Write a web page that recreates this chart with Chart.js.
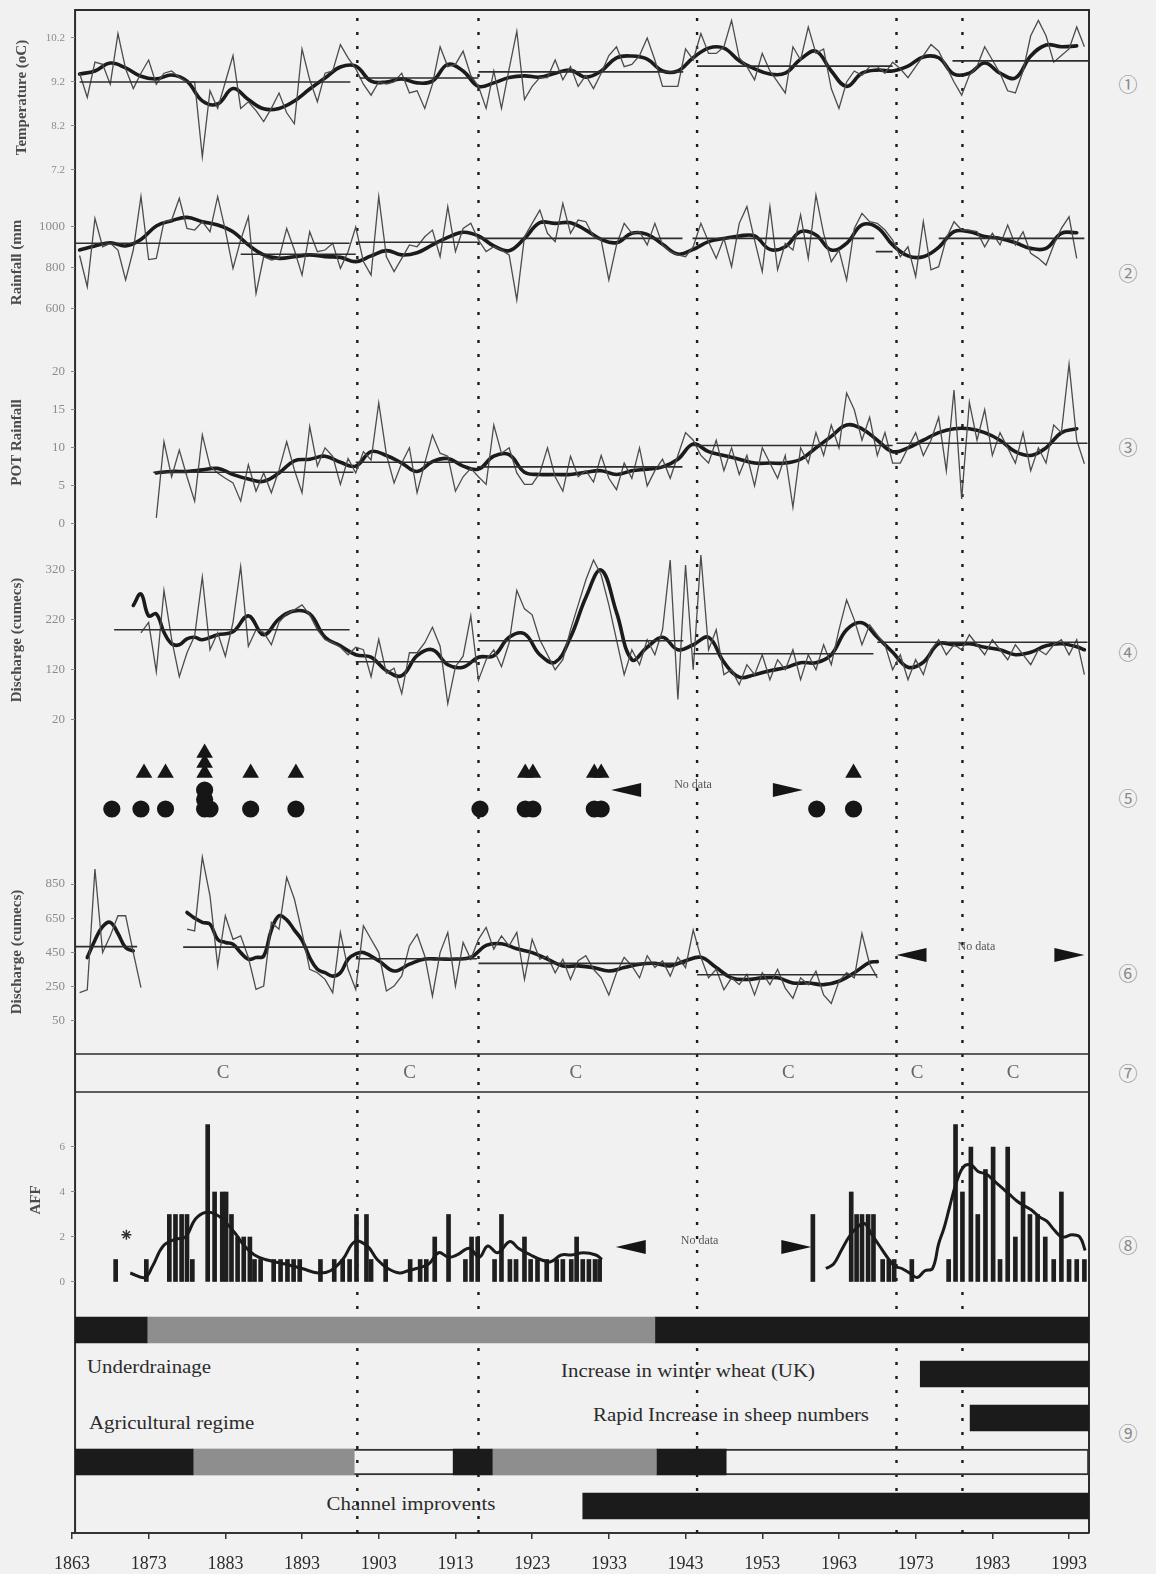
<!DOCTYPE html>
<html>
<head>
<meta charset="utf-8">
<script src="https://cdn.jsdelivr.net/npm/chart.js@4.4.1/dist/chart.umd.min.js"></script>
<style>
  html, body { margin: 0; padding: 0; background: #f1f1f1; }
  #page { position: relative; width: 1156px; height: 1574px; overflow: hidden; }
  #page canvas { position: absolute; left: 0; }
  .lbl { position: absolute; font-family: "Liberation Serif", "DejaVu Serif", serif; color: #2b2b2b;
         font-size: 18px; line-height: 20px; white-space: nowrap; }
  .lbl.left { transform-origin: 0 50%; transform: scaleX(1.16); }
  .lbl.mid { transform: translateX(-50%) scaleX(1.16); }
  .num { position: absolute; width: 24px; text-align: center; font-family: "Noto Sans CJK JP", "DejaVu Sans", sans-serif;
         color: #8a8a8a; font-size: 19px; line-height: 24px; }
</style>
</head>
<body>
<div id="page">
  <div class="lbl left" style="left:87px; top:1357px;">Underdrainage</div>
  <div class="lbl mid" style="left:688px; top:1361px;">Increase in winter wheat (UK)</div>
  <div class="lbl mid" style="left:731px; top:1405px;">Rapid Increase in sheep numbers</div>
  <div class="lbl left" style="left:89px; top:1413px;">Agricultural regime</div>
  <div class="lbl mid" style="left:411px; top:1494px;">Channel improvents</div>

  <div class="num" style="left:1116px; top:72px;">①</div>
  <div class="num" style="left:1116px; top:261px;">②</div>
  <div class="num" style="left:1116px; top:435px;">③</div>
  <div class="num" style="left:1116px; top:640px;">④</div>
  <div class="num" style="left:1116px; top:786px;">⑤</div>
  <div class="num" style="left:1116px; top:961px;">⑥</div>
  <div class="num" style="left:1116px; top:1061px;">⑦</div>
  <div class="num" style="left:1116px; top:1233px;">⑧</div>
  <div class="num" style="left:1116px; top:1421px;">⑨</div>
</div>
<script>
// ---------------------------------------------------------------------------
// Data
// ---------------------------------------------------------------------------
const yearTicks = [1863, 1873, 1883, 1893, 1903, 1913, 1923, 1933, 1943, 1953, 1963, 1973, 1983, 1993];
const changePointYears = [1900.2, 1916.0, 1944.5, 1970.5, 1979.1];
const cYears = [1882.7, 1907.0, 1928.7, 1956.4, 1973.2, 1985.7];

// (1) mean annual temperature, 1864-1995
const temperature = [
  9.4, 8.85, 9.65, 9.6, 9.15, 10.3, 9.5, 9.05, 9.4, 9.7,
  9.15, 9.4, 9.45, 9.3, 9.2, 9.2, 7.5, 9.0, 8.6, 9.2,
  9.8, 8.6, 8.75, 8.55, 8.3, 8.6, 8.95, 8.5, 8.25, 9.95,
  9.25, 8.75, 9.4, 9.45, 10.05, 9.75, 9.5, 9.15, 8.9, 9.2,
  9.15, 9.2, 9.4, 8.95, 9.0, 8.6, 9.15, 10.0, 9.55, 9.6,
  9.9, 9.35, 9.1, 8.6, 9.45, 8.6, 9.5, 10.35, 8.8, 9.1,
  9.3, 9.3, 9.7, 9.25, 9.55, 9.1, 9.35, 9.05, 9.4, 9.8,
  10.0, 9.55, 9.6, 9.8, 10.2, 9.7, 9.1, 9.1, 9.1, 9.95,
  9.7, 10.3, 9.85, 9.85, 10.0, 10.6, 9.75, 9.55, 9.25, 9.85,
  9.45, 9.2, 8.95, 10.0, 9.7, 10.45, 9.85, 9.95, 9.05, 8.6,
  9.2, 9.45, 9.35, 9.55, 9.55, 9.4, 9.65, 9.5, 9.3, 9.55,
  9.8, 10.05, 9.9, 9.55, 9.2, 8.9, 9.35, 9.55, 10.0, 9.7,
  9.4, 9.0, 8.95, 9.45, 10.25, 10.6, 10.25, 9.65, 9.8, 9.95,
  10.45, 10.0
];
// running mean, every second year from 1864
const temperatureSmooth = [
  9.38, 9.45, 9.63, 9.52, 9.33, 9.27, 9.36, 9.22, 8.77, 8.7,
  9.05, 8.8, 8.59, 8.6, 8.77, 9.04, 9.29, 9.54, 9.56, 9.22,
  9.2, 9.27, 9.18, 9.22, 9.6, 9.45, 9.1, 9.18, 9.3, 9.34,
  9.31, 9.4, 9.47, 9.31, 9.45, 9.75, 9.79, 9.72, 9.45, 9.45,
  9.75, 9.97, 9.97, 9.68, 9.5, 9.38, 9.4, 9.72, 9.9, 9.45,
  9.1, 9.4, 9.47, 9.45, 9.56, 9.77, 9.75, 9.38, 9.4, 9.63,
  9.4, 9.29, 9.79, 10.04, 10.0, 10.02
];
// segment means: [from, to, mean]
const temperatureMeans = [[1864, 1899.3, 9.2], [1900.5, 1916, 9.29], [1916, 1942.7, 9.43], [1944.5, 1970, 9.56], [1977.8, 1995.5, 9.68]];
const temperatureTicks = [7.2, 8.2, 9.2, 10.2];

// (2) annual rainfall (mm), 1864-1994
const rainfall = [
  860, 707, 1042, 903, 920, 887, 740, 887, 1150, 840,
  846, 1026, 1034, 1141, 993, 985, 1026, 977, 1149, 985,
  797, 936, 1050, 674, 854, 838, 846, 993, 887, 764,
  977, 879, 887, 920, 797, 879, 1000, 830, 764, 1149,
  854, 781, 846, 912, 903, 952, 985, 854, 1100, 879,
  993, 1018, 936, 879, 903, 887, 863, 642, 952, 1018,
  1083, 969, 928, 1116, 969, 1034, 1026, 953, 936, 740,
  912, 1018, 969, 977, 912, 1018, 912, 879, 863, 854,
  903, 1018, 928, 846, 944, 805, 1018, 1100, 936, 781,
  1100, 790, 920, 887, 1059, 846, 1157, 969, 830, 887,
  740, 993, 1067, 1026, 1018, 985, 936, 854, 903, 756,
  1026, 790, 805, 944, 1026, 985, 985, 977, 903, 969,
  912, 1010, 912, 977, 871, 846, 813, 912, 993, 1050,
  846
];
const rainfallSmooth = [
  887, 907, 923, 907, 939, 1005, 1031, 1047, 1026, 1010,
  977, 912, 863, 846, 854, 863, 854, 851, 830, 858,
  884, 863, 874, 912, 949, 974, 956, 907, 884, 944,
  1021, 1018, 1021, 985, 939, 923, 969, 964, 915, 867,
  890, 928, 944, 956, 956, 890, 903, 977, 961, 887,
  920, 1010, 998, 912, 858, 854, 900, 977, 977, 953,
  944, 923, 895, 895, 969, 972
];
const rainfallMeans = [[1863.4, 1899.2, 920], [1885, 1900, 866], [1900, 1916, 925], [1916, 1942.6, 944], [1943.9, 1967.6, 944], [1967.8, 1970, 879], [1976, 1995, 944]];
const rainfallTicks = [600, 800, 1000];

// (3) POT rainfall events per year, 1874-1995
const potRainfall = [
  0.8, 10.8, 6.2, 9.7, 6.2, 3.0, 11.7, 7.6, 6.7, 6.0,
  5.4, 3.0, 7.8, 4.3, 6.7, 4.1, 7.1, 10.8, 7.1, 4.1,
  12.8, 7.6, 10.0, 8.9, 5.2, 8.6, 6.7, 9.5, 8.4, 15.9,
  9.1, 5.4, 8.0, 10.0, 4.1, 8.0, 11.7, 9.3, 8.9, 4.3,
  6.2, 7.3, 6.2, 5.2, 13.0, 9.3, 10.0, 6.7, 5.2, 5.2,
  6.7, 10.0, 6.2, 4.3, 8.9, 6.2, 7.0, 5.5, 9.0, 6.0,
  4.5, 8.0, 6.0, 10.0, 5.0, 7.0, 8.5, 6.0, 9.0, 12.0,
  11.0, 9.0, 8.0, 11.0, 7.0, 10.0, 6.5, 9.0, 5.0, 10.0,
  8.0, 6.0, 9.0, 2.2, 10.0, 8.0, 12.0, 9.0, 13.0, 10.0,
  17.2, 15.0, 11.0, 14.0, 9.0, 12.0, 8.0, 8.0, 10.0, 12.0,
  9.0, 11.0, 14.0, 7.0, 17.6, 3.3, 16.0, 11.0, 15.0, 9.0,
  12.0, 10.0, 8.0, 12.0, 7.0, 10.0, 8.0, 13.0, 12.0, 21.0,
  11.0, 7.9
];
const potRainfallSmooth = [
  6.7, 6.9, 6.9, 7.1, 7.3, 6.5, 5.9, 5.6, 6.7, 8.3,
  8.5, 8.9, 8.1, 7.6, 9.5, 9.0, 8.0, 6.9, 8.2, 8.6,
  7.6, 7.2, 8.9, 9.1, 6.8, 6.5, 6.5, 6.5, 6.8, 7.0,
  6.5, 7.0, 7.2, 7.5, 8.5, 10.5, 9.5, 9.0, 8.5, 8.0,
  8.0, 8.0, 8.5, 10.0, 11.5, 13.0, 12.5, 11.0, 9.5, 10.0,
  11.0, 12.0, 12.5, 12.5, 12.0, 11.0, 9.5, 9.0, 10.0, 12.0,
  12.5
];
const potRainfallMeans = [[1873.6, 1899.7, 6.8], [1900, 1915.8, 8.1], [1916.2, 1942.6, 7.5], [1944, 1970, 10.3], [1970.5, 1995.4, 10.6]];
const potRainfallTicks = [0, 5, 10, 15, 20];

// (4) mean annual discharge (cumecs), 1872-1995
const discharge = [
  194, 215, 116, 279, 181, 106, 154, 188, 306, 160,
  194, 147, 215, 327, 167, 200, 195, 170, 215, 232,
  240, 250, 230, 200, 180, 175, 165, 150, 165, 160,
  106, 181, 113, 123, 72, 154, 154, 174, 205, 167,
  52, 126, 147, 228, 99, 140, 160, 126, 174, 279,
  242, 230, 180, 150, 120, 140, 200, 250, 300, 340,
  310, 250, 180, 110, 160, 130, 180, 150, 200, 340,
  60, 330, 120, 350, 160, 200, 110, 120, 90, 130,
  110, 150, 100, 140, 120, 160, 100, 150, 120, 170,
  130, 200, 260, 220, 170, 210, 190, 170, 120, 150,
  100, 140, 110, 160, 180, 150, 170, 160, 190, 170,
  150, 180, 160, 140, 170, 150, 130, 160, 150, 170,
  180, 150, 180, 110
];
const dischargeSmooth = [
  [1871, 249], [1872, 272], [1873, 228], [1874, 232], [1875, 195], [1876, 172], [1877, 170], [1878, 182],
  [1879, 185], [1880, 180], [1882, 190], [1884, 196], [1886, 228], [1888, 190], [1890, 222], [1892, 238],
  [1894, 232], [1896, 185], [1898, 168], [1900, 150], [1902, 145], [1904, 118], [1906, 108], [1908, 148],
  [1910, 160], [1912, 130], [1914, 125], [1916, 145], [1918, 148], [1920, 185], [1922, 192], [1924, 150],
  [1926, 135], [1928, 185], [1930, 265], [1932, 320], [1934, 235], [1936, 140], [1938, 165], [1940, 185],
  [1942, 160], [1944, 170], [1946, 185], [1948, 135], [1950, 105], [1952, 110], [1954, 118], [1956, 124],
  [1958, 134], [1960, 134], [1962, 150], [1964, 200], [1966, 214], [1968, 185], [1970, 155], [1972, 125],
  [1974, 135], [1976, 172], [1978, 170], [1980, 172], [1982, 165], [1984, 160], [1986, 150], [1988, 155],
  [1990, 168], [1992, 172], [1994, 166], [1995, 160]
];
const dischargeMeans = [[1868.5, 1899.2, 200], [1900, 1915.8, 136], [1916, 1942.7, 178], [1944, 1967.5, 152], [1968, 1995.4, 175]];
const dischargeTicks = [20, 120, 220, 320];

// (5) flood events: one entry per event, repeated years stack
const floodCircleYears = [1868.2, 1872.0, 1875.2, 1880.3, 1880.3, 1880.3, 1881.0, 1886.3, 1892.2, 1916.2, 1922.1, 1923.1, 1931.1, 1932.0, 1960.1, 1964.9];
const floodTriangleYears = [1872.4, 1875.2, 1880.3, 1880.3, 1880.3, 1886.3, 1892.2, 1922.1, 1923.1, 1931.1, 1932.0, 1964.9];
const floodGap = [1933.3, 1958.3];

// (6) annual peak discharge (cumecs), 1864-1968
const peakDischarge = [
  213, 230, 938, 448, 546, 664, 664, 448, 242, null,
  null, null, null, null, 585, 575, 1007, 781, 370, 664,
  526, 546, 419, 232, 252, 625, 585, 889, 762, 566,
  350, 330, 291, 213, 566, 350, 232, 605, 526, 448,
  223, 252, 311, 487, 556, 428, 193, 448, 566, 252,
  507, 409, 526, 595, 468, 546, 487, 566, 291, 526,
  409, 428, 330, 409, 291, 400, 430, 350, 300, 200,
  330, 420, 370, 300, 430, 360, 400, 310, 420, 360,
  580, 420, 300, 350, 230, 300, 260, 320, 200, 330,
  260, 350, 240, 180, 300, 260, 340, 200, 150, 280,
  330, 300, 560, 380, 300
];
const peakDischargeSmooth = [
  [1865, 419], [1866, 520], [1867, 600], [1868, 625], [1869, 560], [1870, 477], [1871, 458], [1872, null],
  [1878, 683], [1879, 650], [1880, 625], [1881, 615], [1882, 526], [1883, 507], [1884, 497], [1885, 448],
  [1886, 409], [1887, 419], [1888, 428], [1889, 580], [1890, 664], [1891, 640], [1892, 580], [1893, 520],
  [1894, 419], [1895, 350], [1896, 330], [1897, 310], [1898, 330], [1899, 409], [1900, 440], [1901, 448],
  [1903, 400], [1905, 340], [1907, 380], [1909, 410], [1911, 410], [1913, 410], [1915, 420], [1917, 490],
  [1919, 500], [1921, 470], [1923, 448], [1925, 410], [1927, 370], [1929, 370], [1931, 360], [1933, 340],
  [1935, 360], [1937, 380], [1939, 385], [1941, 370], [1943, 400], [1945, 420], [1947, 360], [1949, 300],
  [1951, 290], [1953, 300], [1955, 300], [1957, 270], [1959, 270], [1961, 260], [1963, 280], [1965, 330],
  [1967, 390], [1968, 395]
];
const peakDischargeMeans = [[1863.4, 1871.5, 483], [1877.5, 1899.5, 480], [1900, 1915.8, 412], [1916, 1943, 385], [1944.5, 1968, 318]];
const peakDischargeTicks = [50, 250, 450, 650, 850];
const peakGap = [1970.5, 1995.0];

// (8) annual flood frequency
const affYears = [
  1868.7, 1872.7, 1875.7, 1876.5, 1877.3, 1878.0, 1878.7, 1880.7, 1881.6, 1882.6,
  1883.1, 1883.8, 1884.6, 1885.4, 1886.2, 1886.8, 1887.6, 1889.3, 1890.2, 1891.1,
  1891.9, 1892.7, 1895.4, 1897.2, 1898.3, 1899.2, 1900.1, 1901.4, 1902.0, 1903.9,
  1907.1, 1908.4, 1909.2, 1910.3, 1912.1, 1914.3, 1915.1, 1915.9, 1918.1, 1919.0,
  1920.1, 1920.9, 1922.0, 1922.8, 1923.7, 1924.9, 1926.2, 1927.0, 1928.1, 1928.8,
  1929.6, 1930.4, 1931.2, 1931.8,
  1959.6, 1964.6, 1965.3, 1966.0, 1966.8, 1967.5, 1968.7, 1969.5, 1970.2, 1972.5,
  1977.3, 1978.2, 1979.1, 1980.2, 1981.1, 1982.1, 1983.1, 1984.0, 1985.0, 1986.0,
  1987.0, 1987.9, 1988.9, 1989.9, 1991.0, 1992.0, 1993.0, 1994.0, 1995.0
];
const affCounts = [
  1, 1, 3, 3, 3, 3, 1, 7, 4, 4,
  4, 3, 2, 2, 2, 1, 1, 1, 1, 1,
  1, 1, 1, 1, 1, 1, 3, 3, 1, 1,
  1, 1, 1, 2, 3, 1, 2, 2, 1, 3,
  1, 1, 2, 1, 1, 1, 1, 1, 1, 2,
  1, 1, 1, 1,
  3, 4, 3, 3, 3, 3, 1, 1, 1, 1,
  1, 7, 4, 6, 3, 5, 6, 1, 6, 2,
  4, 3, 3, 2, 1, 4, 1, 1, 1
];
const affSmoothYears = [
  1870.6, 1872.5, 1873.5, 1874.9, 1876.5, 1877.8, 1879.1, 1880.5, 1881.8, 1882.9,
  1884.2, 1885.5, 1886.8, 1888.2, 1890.8, 1893.0, 1895.1, 1896.7, 1898.3, 1899.9,
  1901.5, 1902.8, 1904.2, 1905.7, 1906.8, 1907.9, 1909.5, 1910.8, 1912.1, 1913.2,
  1914.8, 1916.1, 1917.2, 1918.5, 1920.1, 1921.2, 1922.8, 1924.1, 1925.4, 1926.8,
  1928.1, 1929.7, 1931.3, 1932.1,
  1961.3, 1962.3, 1963.3, 1964.3, 1965.3, 1966.3, 1967.3, 1968.3, 1969.3, 1970.3,
  1971.2, 1972.2, 1973.2, 1974.2, 1975.2, 1976.0, 1976.7, 1977.4, 1978.2, 1979.2,
  1980.2, 1981.2, 1982.2, 1983.2, 1984.2, 1985.2, 1986.2, 1987.1, 1988.1, 1989.1,
  1990.1, 1991.1, 1992.1, 1993.4, 1994.4, 1995.1
];
const affSmooth = [
  0.4, 0.2, 0.7, 1.6, 1.9, 2.0, 2.8, 3.1, 3.0, 2.7,
  2.2, 1.6, 1.2, 1.0, 0.8, 0.6, 0.4, 0.5, 1.0, 1.8,
  1.6, 1.0, 0.6, 0.4, 0.5, 0.6, 0.8, 1.3, 1.1, 1.2,
  1.5, 1.1, 1.6, 1.3, 1.8, 1.5, 1.2, 1.0, 0.9, 1.2,
  1.2, 1.3, 1.2, 1.0,
  0.6, 0.8, 1.4, 2.0, 2.4, 2.6, 2.1, 1.6, 1.1, 0.7,
  0.6, 0.4, 0.2, 0.5, 0.6, 1.7, 2.4, 3.3, 4.3, 5.1,
  5.2, 4.9, 4.8, 4.5, 4.2, 3.9, 3.6, 3.4, 3.2, 2.9,
  2.7, 2.3, 2.0, 2.1, 2.0, 1.4
];
const affNote = [1870.1, 2.1];
const affGap = [1933.9, 1959.4];
const affTicks = [0, 2, 4, 6];

// (9) land-use and channel history: [row, from, to, tone]
const historyRows = ['Underdrainage', 'Increase in winter wheat (UK)', 'Rapid Increase in sheep numbers', 'Agricultural regime', 'Channel improvents'];
const historySpans = [
  [0, 1863.4, 1872.8, 'dark'], [0, 1872.8, 1939.0, 'grey'], [0, 1939.0, 1995.6, 'dark'],
  [1, 1973.6, 1995.6, 'dark'],
  [2, 1980.1, 1995.6, 'dark'],
  [3, 1863.4, 1878.8, 'dark'], [3, 1878.8, 1899.8, 'grey'], [3, 1912.7, 1917.8, 'dark'],
  [3, 1917.8, 1939.2, 'grey'], [3, 1939.2, 1948.3, 'dark'],
  [4, 1929.6, 1995.6, 'dark']
];
const historyOutline = [3, 1863.4, 1995.6];

// ---------------------------------------------------------------------------
// Drawing
// ---------------------------------------------------------------------------
const SERIF = '"Liberation Serif", "DejaVu Serif", serif';
const X0 = 1863.4, X1 = 1995.6;     // span of the framed plot
const AREA_LEFT = 75, AREA_RIGHT = 1089, PAD = 24;
Chart.defaults.font.family = SERIF;

const page = document.getElementById('page');

function makeCanvas(top, height) {
  const c = document.createElement('canvas');
  c.width = 1156; c.height = height;
  c.style.top = top + 'px';
  page.appendChild(c);
  return c.getContext('2d');
}
function panelCanvas(areaTop, areaBottom) {
  return makeCanvas(areaTop - PAD, areaBottom - areaTop + 2 * PAD);
}

const annual = (start, values) => values.map((v, i) => ({ x: start + i, y: v }));
const biennial = (start, values) => values.map((v, i) => ({ x: start + 2 * i, y: v }));
const pairs = list => list.map(([x, y]) => ({ x, y }));
const zipped = (xs, ys) => xs.map((x, i) => ({ x, y: ys[i] }));
function segments(list) {
  const out = [];
  list.forEach(([a, b, v]) => out.push({ x: a, y: v }, { x: b, y: v }, { x: b, y: null }));
  return out;
}

const thinLine = data => ({ data, borderColor: '#4c4c4c', borderWidth: 1.3, pointRadius: 0, tension: 0, spanGaps: false });
const thickLine = data => ({ data, borderColor: '#1b1b1b', borderWidth: 3.6, pointRadius: 0, tension: 0.4, spanGaps: false,
                             borderCapStyle: 'round', borderJoinStyle: 'round' });
const meanLine = data => ({ data, borderColor: '#2e2e2e', borderWidth: 1.6, pointRadius: 0, tension: 0, spanGaps: false });

function baseOptions(padLeft) {
  return {
    responsive: false, animation: false, devicePixelRatio: 1, events: [],
    layout: { padding: { left: padLeft, right: 1156 - AREA_RIGHT, top: PAD, bottom: PAD } },
    plugins: { legend: { display: false }, tooltip: { enabled: false } }
  };
}
const xHidden = () => ({ type: 'linear', min: X0, max: X1, display: false, offset: false, grid: { offset: false } });

function yScale({ min, max, ticks, fmt, title, tickSize = 13, titlePad = 8 }) {
  return {
    type: 'linear', position: 'left', min, max,
    afterBuildTicks: s => { s.ticks = ticks.map(v => ({ value: v })); },
    afterFit: s => { s.width = AREA_LEFT; },
    grid: { display: true, drawOnChartArea: false, drawTicks: true, tickLength: 4, color: '#8a8a8a', lineWidth: 1 },
    border: { display: false },
    ticks: { callback: fmt, color: '#8c8c8c', font: { family: SERIF, size: tickSize }, padding: 6, autoSkip: false },
    title: { display: !!title, text: title, color: '#4a4a4a', font: { family: SERIF, size: 15, weight: 'bold' },
             padding: { top: titlePad, bottom: 0 } }
  };
}

// "No data" markers: arrows pointing at the ends of a gap in the record
const noDataPlugin = {
  id: 'noData',
  afterDatasetsDraw(chart, args, o) {
    if (!o || o.from == null) return;
    const { ctx, scales: { x, y } } = chart;
    const xa = x.getPixelForValue(o.from), xb = x.getPixelForValue(o.to);
    const ya = y.getPixelForValue(o.y);
    ctx.save();
    ctx.fillStyle = '#151515';
    ctx.beginPath(); ctx.moveTo(xa, ya); ctx.lineTo(xa + 30, ya - 7); ctx.lineTo(xa + 30, ya + 7); ctx.closePath(); ctx.fill();
    ctx.beginPath(); ctx.moveTo(xb, ya); ctx.lineTo(xb - 30, ya - 7); ctx.lineTo(xb - 30, ya + 7); ctx.closePath(); ctx.fill();
    ctx.font = '12px ' + SERIF; ctx.fillStyle = '#555';
    ctx.textAlign = 'center'; ctx.textBaseline = 'middle';
    ctx.fillText('No data', (xa + xb) / 2 - 14, y.getPixelForValue(o.textY));
    ctx.restore();
  }
};

// --- Frame, change-point lines, time axis and the "C" row -------------------
const framePlugin = {
  id: 'frame',
  afterDatasetsDraw(chart) {
    const { ctx, chartArea: { top, bottom }, scales: { x } } = chart;
    const l = x.getPixelForValue(X0), r = x.getPixelForValue(X1);
    ctx.save();
    ctx.strokeStyle = '#2c2c2c'; ctx.lineWidth = 2;
    ctx.beginPath(); ctx.moveTo(l, bottom); ctx.lineTo(l, top); ctx.lineTo(r, top); ctx.lineTo(r, bottom); ctx.stroke();
    ctx.lineWidth = 1.6;
    ctx.beginPath(); ctx.moveTo(l, 1054); ctx.lineTo(r, 1054); ctx.moveTo(l, 1092); ctx.lineTo(r, 1092); ctx.stroke();
    ctx.fillStyle = '#666'; ctx.font = '19px ' + SERIF; ctx.textAlign = 'center'; ctx.textBaseline = 'middle';
    cYears.forEach(yr => ctx.fillText('C', x.getPixelForValue(yr), 1073));
    ctx.restore();
  }
};

new Chart(makeCanvas(0, 1574), {
  type: 'line',
  data: {
    datasets: changePointYears.map(yr => ({
      data: [{ x: yr, y: 0 }, { x: yr, y: 1 }], borderColor: '#1a1a1a', borderWidth: 2.4,
      borderDash: [3, 11], pointRadius: 0
    }))
  },
  options: {
    responsive: false, animation: false, devicePixelRatio: 1, events: [],
    layout: { padding: { left: 72, right: 1156 - AREA_RIGHT, top: 10, bottom: 0 } },
    plugins: { legend: { display: false }, tooltip: { enabled: false } },
    scales: {
      x: {
        type: 'linear', min: 1863, max: X1,
        afterBuildTicks: s => { s.ticks = yearTicks.map(v => ({ value: v })); },
        afterFit: s => { s.height = 41; },
        grid: { display: true, drawOnChartArea: false, drawTicks: true, tickLength: 6, color: '#333', lineWidth: 1.5 },
        border: { display: true, color: '#333', width: 2 },
        ticks: { callback: v => String(v), color: '#2a2a2a', font: { family: SERIF, size: 18 }, padding: 14,
                 maxRotation: 0, autoSkip: false }
      },
      y: { type: 'linear', min: 0, max: 1, display: false }
    }
  },
  plugins: [framePlugin]
});

// --- (1) Temperature --------------------------------------------------------
new Chart(panelCanvas(10, 185), {
  type: 'line',
  data: { datasets: [
    meanLine(segments(temperatureMeans)),
    thinLine(annual(1864, temperature)),
    thickLine(biennial(1864, temperatureSmooth))
  ] },
  options: { ...baseOptions(0), scales: { x: xHidden(),
    y: yScale({ min: 6.859, max: 10.836, ticks: temperatureTicks, fmt: v => v.toFixed(1), title: 'Temperature (oC)', tickSize: 11, titlePad: 13 }) } }
});

// --- (2) Rainfall -----------------------------------------------------------
new Chart(panelCanvas(185, 340), {
  type: 'line',
  data: { datasets: [
    meanLine(segments(rainfallMeans)),
    thinLine(annual(1864, rainfall)),
    thickLine(biennial(1864, rainfallSmooth))
  ] },
  options: { ...baseOptions(0), scales: { x: xHidden(),
    y: yScale({ min: 445.4, max: 1206.1, ticks: rainfallTicks, fmt: v => String(v), title: 'Rainfall (mm' }) } }
});

// --- (3) POT rainfall -------------------------------------------------------
new Chart(panelCanvas(340, 545), {
  type: 'line',
  data: { datasets: [
    meanLine(segments(potRainfallMeans)),
    thinLine(annual(1874, potRainfall)),
    thickLine(biennial(1874, potRainfallSmooth))
  ] },
  options: { ...baseOptions(0), scales: { x: xHidden(),
    y: yScale({ min: -2.76, max: 24.16, ticks: potRainfallTicks, fmt: v => String(v), title: 'POT Rainfall' }) } }
});

// --- (4) Mean discharge -----------------------------------------------------
new Chart(panelCanvas(545, 735), {
  type: 'line',
  data: { datasets: [
    meanLine(segments(dischargeMeans)),
    thinLine(annual(1872, discharge)),
    thickLine(pairs(dischargeSmooth))
  ] },
  options: { ...baseOptions(0), scales: { x: xHidden(),
    y: yScale({ min: -11.1, max: 370.2, ticks: dischargeTicks, fmt: v => String(v), title: 'Discharge (cumecs)' }) } }
});

// --- (5) Flood events -------------------------------------------------------
const FLOOD_ROWS = { circle: 4.1, circleStep: 0.95, triangle: 7.7, triangleStep: 1.0 };
function stacked(years, base, step) {
  const seen = {};
  return years.map(yr => {
    const k = seen[yr] = (seen[yr] || 0) + 1;
    return { x: yr, y: base + (k - 1) * step };
  });
}
new Chart(panelCanvas(735, 850), {
  type: 'scatter',
  data: { datasets: [
    { data: stacked(floodCircleYears, FLOOD_ROWS.circle, FLOOD_ROWS.circleStep), pointStyle: 'circle',
      pointRadius: 8.6, backgroundColor: '#161616', borderWidth: 0 },
    { data: stacked(floodTriangleYears, FLOOD_ROWS.triangle, FLOOD_ROWS.triangleStep), pointStyle: 'triangle',
      pointRadius: 9.6, backgroundColor: '#161616', borderWidth: 0 }
  ] },
  options: { ...baseOptions(AREA_LEFT),
    plugins: { legend: { display: false }, tooltip: { enabled: false },
               noData: { from: floodGap[0], to: floodGap[1], y: 6.0, textY: 6.5 } },
    scales: { x: xHidden(), y: { type: 'linear', min: 0, max: 11.5, display: false } } },
  plugins: [noDataPlugin]
});

// --- (6) Peak discharge -----------------------------------------------------
new Chart(panelCanvas(850, 1054), {
  type: 'line',
  data: { datasets: [
    meanLine(segments(peakDischargeMeans)),
    thinLine(annual(1864, peakDischarge)),
    thickLine(pairs(peakDischargeSmooth))
  ] },
  options: { ...baseOptions(0),
    plugins: { legend: { display: false }, tooltip: { enabled: false },
               noData: { from: peakGap[0], to: peakGap[1], y: 434, textY: 481 } },
    scales: { x: xHidden(),
      y: yScale({ min: -146.4, max: 1049.3, ticks: peakDischargeTicks, fmt: v => String(v), title: 'Discharge (cumecs)' }) } },
  plugins: [noDataPlugin]
});

// --- (8) Annual flood frequency --------------------------------------------
const affLine = zipped(affSmoothYears, affSmooth);
const affSplit = affSmoothYears.findIndex(yr => yr > 1945);
affLine.splice(affSplit, 0, { x: 1945, y: null });
new Chart(panelCanvas(1092, 1308), {
  type: 'bar',
  data: { datasets: [
    { type: 'line', data: [{ x: affNote[0], y: affNote[1] }], showLine: false, pointStyle: 'star',
      pointRadius: 5, borderColor: '#333', borderWidth: 1.4 },
    { type: 'line', data: affLine, borderColor: '#1b1b1b', borderWidth: 3, pointRadius: 0, tension: 0.4, spanGaps: false },
    { type: 'bar', data: zipped(affYears, affCounts), backgroundColor: '#1e1e1e', barThickness: 4, borderWidth: 0 }
  ] },
  options: { ...baseOptions(0),
    plugins: { legend: { display: false }, tooltip: { enabled: false },
               noData: { from: affGap[0], to: affGap[1], y: 1.56, textY: 1.82 } },
    scales: { x: xHidden(),
      y: yScale({ min: -1.156, max: 8.444, ticks: affTicks, fmt: v => String(v), title: 'AFF', tickSize: 11, titlePad: 27 }) } },
  plugins: [noDataPlugin]
});

// --- (9) Land use and channel works ----------------------------------------
const TONES = { dark: '#1b1b1b', grey: '#8e8e8e' };
const rowData = (row, a, b) => historyRows.map((_, i) => (i === row ? [a, b] : null));
const historySets = historySpans.map(([row, a, b, tone]) => ({
  data: rowData(row, a, b), backgroundColor: TONES[tone], borderWidth: 0, barThickness: 26, grouped: false
}));
historySets.push({
  data: rowData(historyOutline[0], historyOutline[1], historyOutline[2]), backgroundColor: 'rgba(0,0,0,0)',
  borderColor: '#333', borderWidth: 1.5, borderSkipped: false, barThickness: 26, grouped: false
});
new Chart(panelCanvas(1308, 1528), {
  type: 'bar',
  data: { labels: historyRows, datasets: historySets },
  options: { ...baseOptions(AREA_LEFT), indexAxis: 'y',
    scales: { x: xHidden(), y: { type: 'category', display: false, offset: true } } }
});
</script>
</body>
</html>
